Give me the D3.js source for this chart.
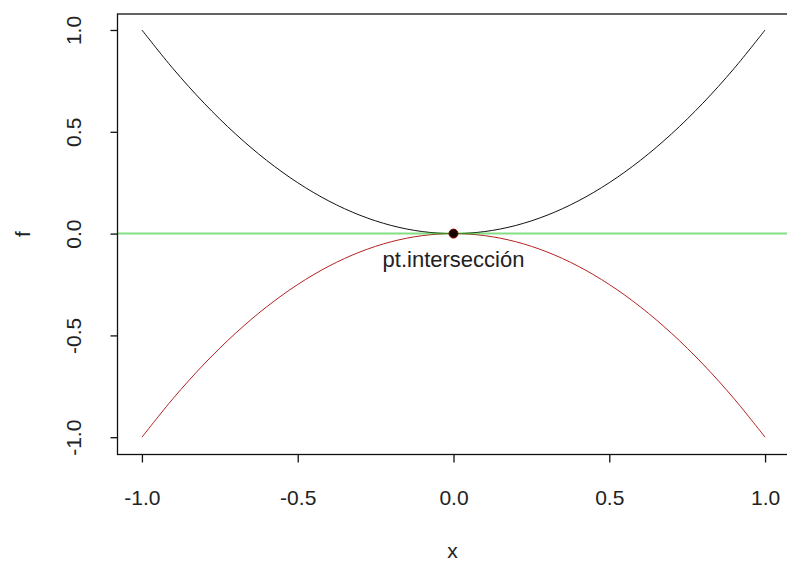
<!DOCTYPE html>
<html><head><meta charset="utf-8">
<script src="https://cdn.jsdelivr.net/npm/d3@7"></script>
<style>body{margin:0;background:#fff;}svg{display:block;}text{font-family:"Liberation Sans",Arial,sans-serif;fill:#222;}</style>
</head><body><svg id="c" width="787" height="563"></svg>
<script>
const xValues = [-1.0,-0.9,-0.8,-0.7,-0.6,-0.5,-0.4,-0.3,-0.2,-0.1,0.0,0.1,0.2,0.3,0.4,0.5,0.6,0.7,0.8,0.9,1.0];
const fUpper = [1.00,0.81,0.64,0.49,0.36,0.25,0.16,0.09,0.04,0.01,0.00,0.01,0.04,0.09,0.16,0.25,0.36,0.49,0.64,0.81,1.00];
const fLower = [-1.00,-0.81,-0.64,-0.49,-0.36,-0.25,-0.16,-0.09,-0.04,-0.01,0.00,-0.01,-0.04,-0.09,-0.16,-0.25,-0.36,-0.49,-0.64,-0.81,-1.00];
const hLineY = [0];
const intersection = [{x:0, y:0, label:"pt.intersección"}];
const xTicks = [-1.0,-0.5,0.0,0.5,1.0];
const yTicks = [-1.0,-0.5,0.0,0.5,1.0];

const svg = d3.select("#c");
const x = d3.scaleLinear().domain([-1.08,1.08]).range([117,790]);
const y = d3.scaleLinear().domain([-1.08,1.08]).range([453.5,13.7]);
const fmt = v => d3.format(".1f")(v).replace("\u2212","-");
const FS = "21px";

svg.append("clipPath").attr("id","pc").append("rect")
  .attr("x",117).attr("y",13.7).attr("width",673).attr("height",439.8);
const g = svg.append("g").attr("clip-path","url(#pc)");

const line = d3.line().x(d=>x(d[0])).y(d=>y(d[1])).curve(d3.curveCatmullRom);
g.append("path").datum(xValues.map((v,i)=>[v,fUpper[i]]))
  .attr("d",line).attr("fill","none").attr("stroke","#111").attr("stroke-width",1);
g.append("path").datum(xValues.map((v,i)=>[v,fLower[i]]))
  .attr("d",line).attr("fill","none").attr("stroke","#b22222").attr("stroke-width",1);
g.selectAll(".h").data(hLineY).enter().append("line")
  .attr("x1",117).attr("x2",790).attr("y1",d=>y(d)).attr("y2",d=>y(d))
  .attr("stroke","#1fc41f").attr("stroke-opacity",0.55).attr("stroke-width",2);

g.selectAll(".pt").data(intersection).enter().append("circle")
  .attr("cx",d=>x(d.x)).attr("cy",d=>y(d.y)).attr("r",4.5)
  .attr("fill","#150000").attr("stroke","#8b0000").attr("stroke-width",1);
svg.selectAll(".lb").data(intersection).enter().append("text")
  .attr("x",d=>x(d.x)).attr("y",d=>y(d.y)+33).attr("text-anchor","middle")
  .attr("font-size","22px").text(d=>d.label);

// box
svg.append("rect").attr("x",117.5).attr("y",14).attr("width",680).attr("height",440.5)
  .attr("fill","none").attr("stroke","#111").attr("stroke-width",1.3);

// x axis
const xa = svg.append("g").attr("transform","translate(0,454.5)")
  .call(d3.axisBottom(x).tickValues(xTicks).tickFormat(fmt).tickSize(8));
xa.select(".domain").remove();
xa.selectAll("line").attr("stroke","#111").attr("stroke-width",1.3);
xa.selectAll("text").attr("font-size",FS).attr("fill","#222").attr("font-family","Liberation Sans, Arial, sans-serif")
  .attr("y",50.5).attr("dy",0);

// y axis
const ya = svg.append("g").attr("transform","translate(117.5,0)")
  .call(d3.axisLeft(y).tickValues(yTicks).tickFormat(fmt).tickSize(7));
ya.select(".domain").remove();
ya.selectAll("line").attr("stroke","#111").attr("stroke-width",1.3);
ya.selectAll("text").attr("font-size",FS).attr("fill","#222").attr("font-family","Liberation Sans, Arial, sans-serif")
  .attr("text-anchor","middle").attr("dy",0).attr("x",0).attr("y",0)
  .attr("transform","translate(-36.5,0) rotate(-90)");

svg.append("text").attr("x",452.5).attr("y",558).attr("text-anchor","middle").attr("font-size",FS).text("x");
svg.append("text").attr("transform","translate(30,234) rotate(-90)").attr("text-anchor","middle").attr("font-size",FS).text("f");
</script></body></html>
